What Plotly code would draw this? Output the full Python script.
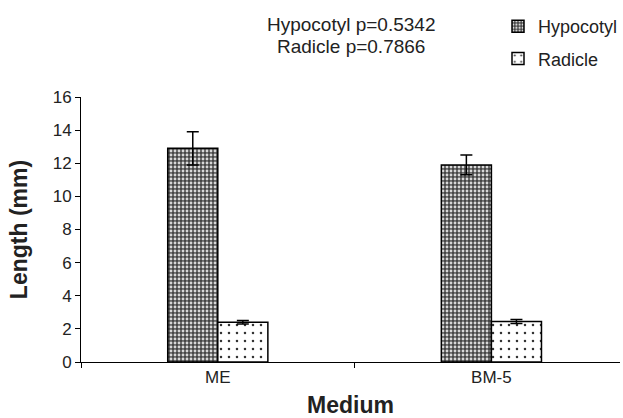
import plotly.graph_objects as go

categories = ["ME", "BM-5"]
hypocotyl = [12.9, 11.9]
hypocotyl_err = [1.0, 0.6]
radicle = [2.4, 2.45]
radicle_err = [0.1, 0.12]
p_labels = ["Hypocotyl p=0.5342", "Radicle p=0.7866"]
y_ticks = [0, 2, 4, 6, 8, 10, 12, 14, 16]

fig = go.Figure()
fig.add_trace(go.Bar(
    x=categories, y=hypocotyl, name="Hypocotyl", legendgroup="h",
    error_y=dict(type="data", array=hypocotyl_err, color="black", thickness=1.5, width=6),
    marker=dict(color="#454545", line=dict(color="black", width=1.5),
                pattern=dict(shape=".", fgcolor="#d8d8d8", bgcolor="#454545",
                             size=4, solidity=0.4, fillmode="replace")),
))
fig.add_trace(go.Bar(
    x=categories, y=radicle, name="Radicle", legendgroup="r",
    error_y=dict(type="data", array=radicle_err, color="black", thickness=1.5, width=6),
    marker=dict(color="white", line=dict(color="black", width=1.5),
                pattern=dict(shape=".", fgcolor="#333333", bgcolor="white",
                             size=8, solidity=0.08, fillmode="replace")),
))

font = "Liberation Sans"
H = 265.0
W = 539.0
fig.add_annotation(text=p_labels[0], xref="paper", yref="paper", x=(351-81)/W, y=1+(97-24)/H,
                   xanchor="center", yanchor="middle",
                   showarrow=False, font=dict(size=19, color="#222", family=font))
fig.add_annotation(text=p_labels[1], xref="paper", yref="paper", x=(351-81)/W, y=1+(97-46)/H,
                   xanchor="center", yanchor="middle",
                   showarrow=False, font=dict(size=19, color="#222", family=font))

fig.update_layout(
    width=623, height=418,
    margin=dict(l=81, r=3, t=97, b=56, autoexpand=False),
    paper_bgcolor="white", plot_bgcolor="white",
    barmode="group", bargap=0.634, bargroupgap=0,
    font=dict(family=font, color="#222", size=16),
    showlegend=True,
    legend=dict(x=(498-81)/W, y=1+(97-8)/H, xanchor="left", yanchor="top",
                traceorder="grouped", tracegroupgap=6,
                font=dict(size=18, family=font, color="#222"),
                itemwidth=30, bgcolor="rgba(0,0,0,0)"),
    xaxis=dict(range=[-0.5, 1.47], showline=True, linecolor="black", linewidth=1,
               tickson="boundaries", ticks="outside", ticklen=5, tickcolor="black",
               automargin=False,
               title=dict(text="<b>Medium</b>", font=dict(size=23, family=font, color="#222"), standoff=23),
               tickfont=dict(size=17), showgrid=False, zeroline=False),
    yaxis=dict(range=[0, 16], tickvals=y_ticks, showline=True, linecolor="black", linewidth=1,
               ticks="outside", ticklen=5, tickcolor="black", showgrid=False, zeroline=False,
               automargin=False,
               title=dict(text="<b>Length (mm)</b>", font=dict(size=23, family=font, color="#222"), standoff=18),
               tickfont=dict(size=17)),
)
fig.write_html("out.html", config={"displayModeBar": False},
               post_script="document.body.style.margin='0';")
